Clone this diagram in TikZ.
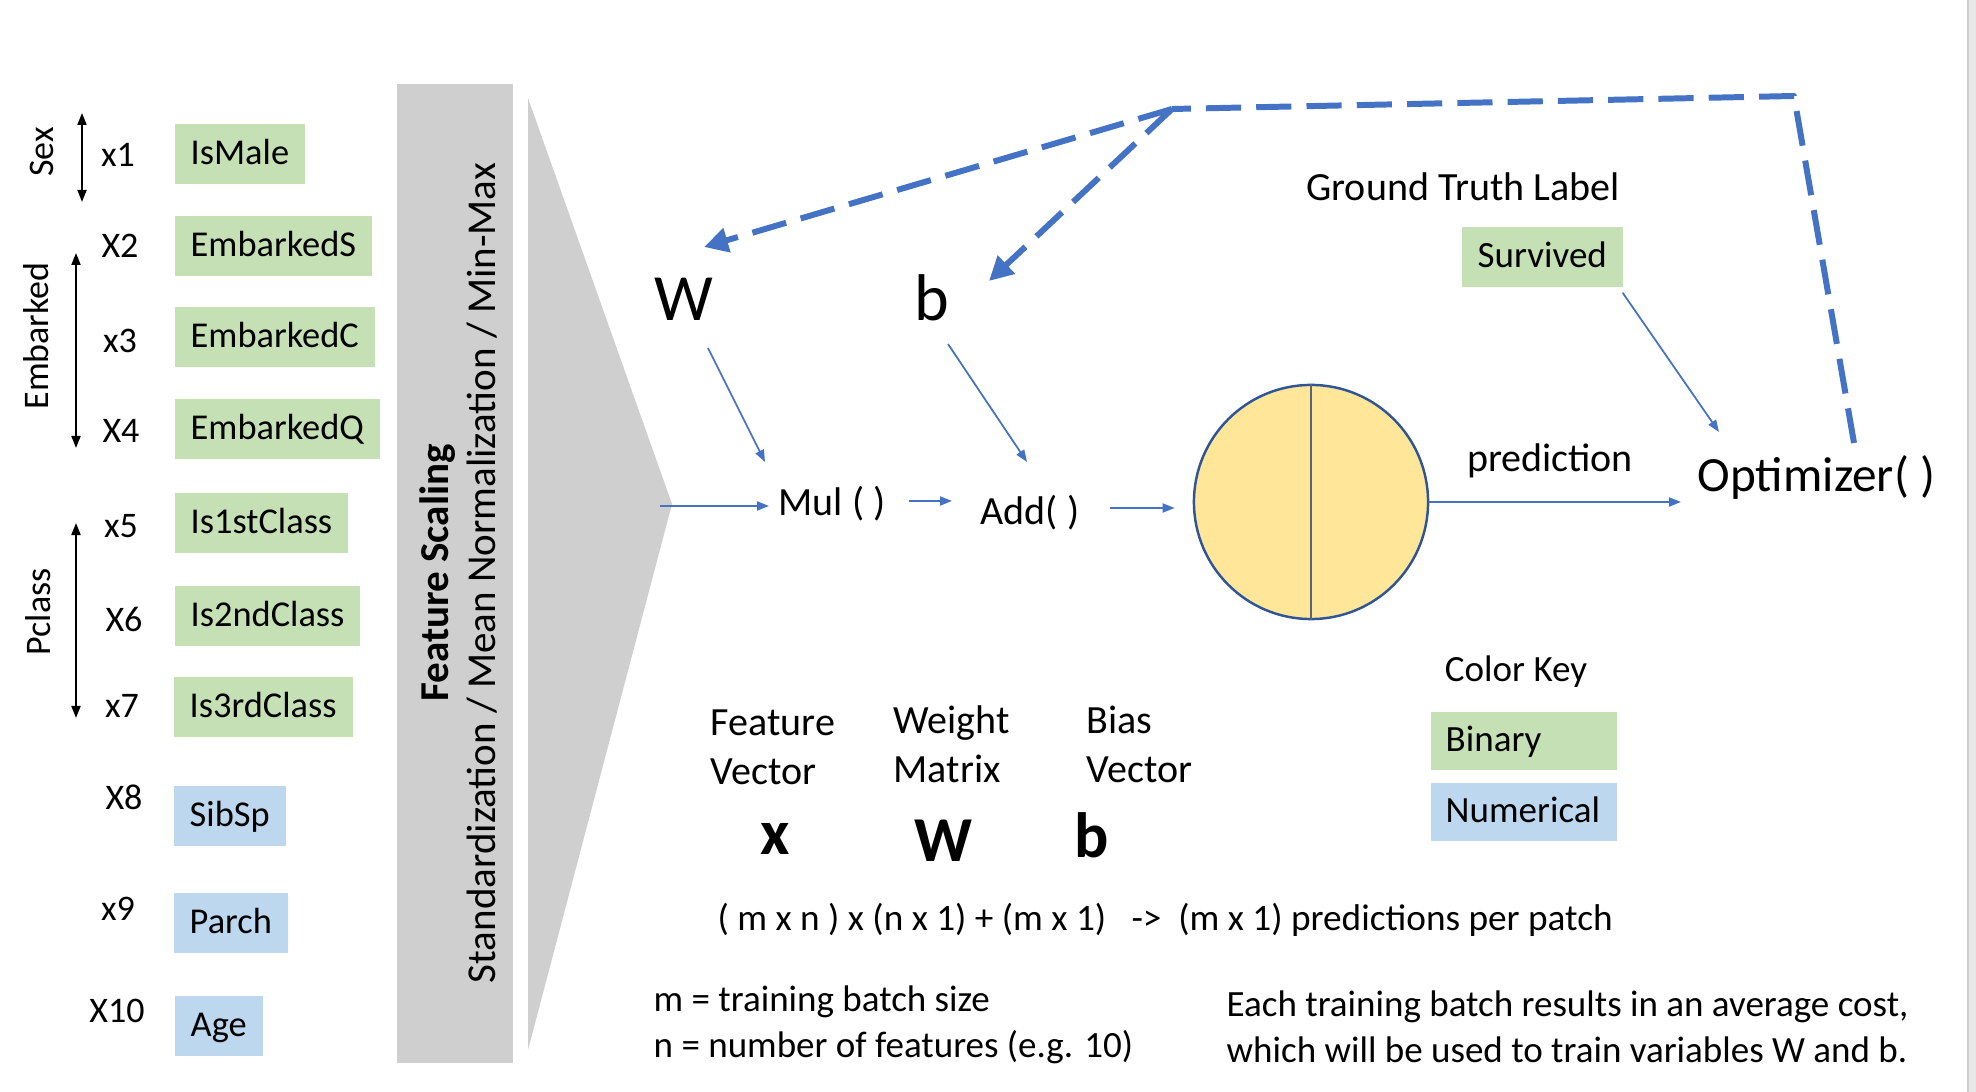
\documentclass[tikz,border=0pt]{standalone}
\usepackage{fontspec}
\setmainfont{Carlito}
\usepackage{tikz}
\usetikzlibrary{arrows.meta, calc, positioning}

\definecolor{binGreen}{HTML}{C5E0B4}
\definecolor{numBlue}{HTML}{BDD7EE}
\definecolor{scaleGray}{HTML}{CFCFCF}
\definecolor{flowBlue}{HTML}{4472C4}
\definecolor{cellYellow}{HTML}{FFE699}
\definecolor{cellEdge}{HTML}{2F5597}
\definecolor{cellMid}{HTML}{56647E}

\tikzset{
  feat/.style={anchor=west, inner xsep=0.16cm, inner ysep=0pt, minimum height=0.6cm, text height=1.5ex, text depth=0.25ex, font=\fontsize{10.35}{12.4}\selectfont},
  binfeat/.style={feat, fill=binGreen},
  numfeat/.style={feat, fill=numBlue},
  xlab/.style={anchor=base, inner sep=0pt, font=\fontsize{10.24}{12.3}\selectfont},
  grp/.style={anchor=base, rotate=90, inner sep=0pt, font=\fontsize{10.24}{12.3}\selectfont},
  txt/.style={inner sep=0pt, font=\fontsize{11.38}{14.2}\selectfont},
  note/.style={inner sep=0pt, font=\fontsize{10.53}{12.8}\selectfont},
  bigsym/.style={inner sep=0pt, anchor=base, font=\fontsize{18.2}{22}\selectfont\bfseries},
  keybox/.style={anchor=west, text width=1.56cm, inner xsep=0.15cm, inner ysep=0pt, minimum height=0.58cm, align=left, text height=1.5ex, text depth=0.25ex, font=\fontsize{10.53}{12.6}\selectfont},
  flow/.style={flowBlue, line width=0.5pt, -{Triangle[length=0.12cm, width=0.09cm]}},
  feedback/.style={flowBlue, line width=1.7pt, line join=round, dash pattern=on 10pt off 4.3pt},
  grpspan/.style={line width=0.5pt, {Triangle[length=0.12cm, width=0.09cm]}-{Triangle[length=0.12cm, width=0.09cm]}},
}

\begin{document}
\begin{tikzpicture}[x=0.01cm, y=-0.01cm]
    \useasboundingbox (0,0) rectangle (1976,1092);
    \fill[black!9] (1968,0) rectangle (1976,1092);
    \draw[black!20, line width=0.6pt] (1968,0) -- (1968,1092);

    % feature scaling block
    \fill[scaleGray] (397,84) rectangle (513,1063);
    \fill[scaleGray] (528,98) -- (672,504) -- (528,1050) -- cycle;
    \node[grp, font=\fontsize{11.67}{14}\selectfont\bfseries] (fsname) at (448,573) {Feature Scaling};
    \node[grp, font=\fontsize{11.67}{14}\selectfont] (fsways) at (495,573) {Standardization / Mean Normalization / Min-Max};
    \coordinate (fsout) at (660,506);

    % input features
    \node[binfeat] (ismale) at (174,154) {IsMale};
    \node[binfeat] (embs) at (174,246) {EmbarkedS};
    \node[binfeat] (embc) at (174,337) {EmbarkedC};
    \node[binfeat] (embq) at (174,429) {EmbarkedQ};
    \node[binfeat] (cls1) at (174,523) {Is1stClass};
    \node[binfeat] (cls2) at (174,616) {Is2ndClass};
    \node[binfeat] (cls3) at (173,707) {Is3rdClass};
    \node[numfeat] (sibsp) at (173,816) {SibSp};
    \node[numfeat] (parch) at (173,923) {Parch};
    \node[numfeat] (age) at (174,1026) {Age};

    \node[xlab] (x1) at (118,167) {x1};
    \node[xlab] (x2) at (120,258) {X2};
    \node[xlab] (x3) at (120,353) {x3};
    \node[xlab] (x4) at (121,443) {X4};
    \node[xlab] (x5) at (121,538) {x5};
    \node[xlab] (x6) at (124,632) {X6};
    \node[xlab] (x7) at (122,718) {x7};
    \node[xlab] (x8) at (124,810) {X8};
    \node[xlab] (x9) at (118,920) {x9};
    \node[xlab] (x10) at (117,1022) {X10};

    \node[grp] (sex) at (54,152) {Sex};
    \node[grp] (embarked) at (48,336) {Embarked};
    \node[grp] (pclass) at (50,612) {Pclass};
    \coordinate (sexA) at (82,113);
    \coordinate (sexB) at (82,202);
    \coordinate (embA) at (76,253);
    \coordinate (embB) at (76,448);
    \coordinate (clsA) at (76,523);
    \coordinate (clsB) at (76,718);
    \draw[grpspan] (sexA) -- (sexB);
    \draw[grpspan] (embA) -- (embB);
    \draw[grpspan] (clsA) -- (clsB);

    % model
    \node[txt, anchor=base, font=\fontsize{18.78}{22}\selectfont] (W) at (684,321) {W};
    \node[txt, anchor=base, font=\fontsize{18.78}{22}\selectfont] (b) at (932,321) {b};
    \node[txt, anchor=base west] (mul) at (778,516) {Mul ( )};
    \node[txt, anchor=base west] (add) at (980,525) {Add( )};
    \node[circle, draw=cellEdge, line width=0.7pt, fill=cellYellow, minimum size=2.34cm, inner sep=0pt] (neuron) at (1311,502) {};
    \draw[cellMid, line width=0.7pt] (neuron.north) -- (neuron.south);
    \node[txt, anchor=base west, font=\fontsize{14}{16.8}\selectfont] (opt) at (1697,492) {Optimizer( )};
    \node[txt, anchor=base] (pred) at (1550,472) {prediction};
    \node[txt, anchor=base] (gtl) at (1463,201) {Ground Truth Label};
    \node[binfeat, font=\fontsize{10.53}{12.6}\selectfont] (surv) at (1461,257) {Survived};

    \draw[flow] (fsout) -- ([shift={(-9,-10)}]mul.base west);
    \draw[flow] ([shift={(23,-15)}]mul.base east) -- ([shift={(-28,-24)}]add.base west);
    \draw[flow] ([shift={(30,-17)}]add.base east) -- ([shift={(-18,6)}]neuron.west);
    \draw[flow] (neuron.east) -- ([xshift=-0.16cm]neuron.east -| opt.west);
    \draw[flow] ([shift={(24,27)}]W.base) -- ([shift={(-13,-54)}]mul.base west);
    \draw[flow] ([shift={(16,23)}]b.base) -- ([shift={(47,-63)}]add.base west);
    \draw[flow] ([shift={(-1,5)}]surv.south east) -- ([shift={(22,-60)}]opt.base west);

    % feedback to the trainable variables
    \coordinate (turn) at (1794,96);
    \coordinate (fork) at (1172,109);
    \draw[feedback] ([shift={(157,-49)}]opt.base west) -- (turn) -- (fork);
    \draw[feedback, -{Triangle[length=0.24cm, width=0.24cm]}] (fork) -- ([shift={(20,-74)}]W.base);
    \draw[feedback, -{Triangle[length=0.24cm, width=0.24cm]}] (fork) -- ([shift={(57,-40)}]b.base);

    % legend and shapes
    \node[txt, anchor=base west, align=left] (fvec) at (710,785) {Feature\\Vector};
    \node[txt, anchor=base west, align=left] (wmat) at (893,783) {Weight\\Matrix};
    \node[txt, anchor=base west, align=left] (bvec) at (1086,783) {Bias\\Vector};
    \node[bigsym] (xsym) at (775,855) {x};
    \node[bigsym] (wsym) at (943,862) {W};
    \node[bigsym] (bsym) at (1092,857) {b};
    \node[note, anchor=base west, font=\fontsize{10.6}{12.8}\selectfont] (dims) at (717,930) {( m x n ) x (n x 1) + (m x 1)\ \ \ ->\ \ (m x 1) predictions per patch};

    \node[note, anchor=base] (ckey) at (1516,682) {Color Key};
    \node[keybox, fill=binGreen] (kbin) at (1430,741) {Binary};
    \node[keybox, fill=numBlue] (knum) at (1430,812) {Numerical};

    \node[note, anchor=base west, align=left] (mn) at (653,1057) {m = training batch size\\n = number of features (e.g. 10)};
    \node[note, anchor=base west, align=left] (cost) at (1226,1062) {Each training batch results in an average cost,\\which will be used to train variables W and b.};
\end{tikzpicture}
\end{document}
